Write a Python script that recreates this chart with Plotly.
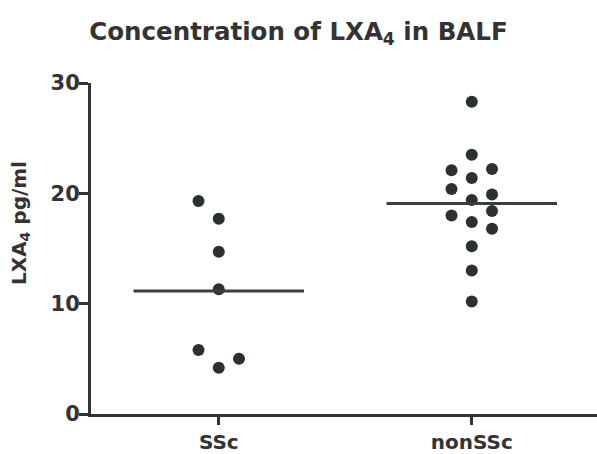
import plotly.graph_objects as go

categories = ["SSc", "nonSSc"]
ssc_values = [19.3, 17.7, 14.7, 11.3, 5.8, 4.2, 5.0]
ssc_columns = [-1, 0, 0, 0, -1, 0, 1]
nonssc_values = [28.3, 23.5, 22.1, 22.2, 21.4, 20.4, 19.9, 19.4, 18.4, 18.0, 17.4, 16.8, 15.2, 13.0, 10.2]
nonssc_columns = [0, 0, -1, 1, 0, -1, 1, 0, 1, -1, 0, 1, 0, 0, 0]
y_ticks = [0, 10, 20, 30]

dot_step = 0.08
half_line = 0.337
dark = "#2b3030"
txt = "#333333"
font_family = "DejaVu Sans, Liberation Sans, Arial, sans-serif"

groups = [(ssc_values, ssc_columns), (nonssc_values, nonssc_columns)]

fig = go.Figure()
for i, (vals, cols) in enumerate(groups):
    xs = [i + c * dot_step for c in cols]
    fig.add_trace(go.Scatter(x=xs, y=vals, mode="markers",
                             marker=dict(size=12, color=dark), showlegend=False,
                             hoverinfo="y"))
    mean = sum(vals) / len(vals)
    fig.add_trace(go.Scatter(x=[i - half_line, i + half_line], y=[mean, mean], mode="lines",
                             line=dict(color="#3a3e3e", width=3), showlegend=False,
                             hoverinfo="skip"))

fig.update_layout(
    width=597, height=454,
    margin=dict(l=91, r=0, t=83, b=33),
    paper_bgcolor="white", plot_bgcolor="white",
    font=dict(family=font_family, color=txt),
    title=dict(text="Concentration of LXA<sub>4</sub> in BALF",
               x=0.5, xref="container", xanchor="center",
               y=1 - 31 / 454, yref="container", yanchor="middle",
               font=dict(size=24.5, family=font_family, color=txt, weight="bold")),
    xaxis=dict(range=[-0.505, 1.495], tickmode="array", tickvals=[0, 1], ticktext=categories,
               showgrid=False, zeroline=False, showline=True, linecolor=txt, linewidth=3,
               ticks="outside", ticklen=8, tickwidth=3, tickcolor=txt,
               tickfont=dict(size=20, family=font_family, color=txt, weight="bold")),
    yaxis=dict(range=[0, 30], tickmode="array", tickvals=y_ticks,
               showgrid=False, zeroline=False, showline=True, linecolor=txt, linewidth=3,
               ticks="outside", ticklen=9, tickwidth=3, tickcolor=txt,
               ticklabelstandoff=-5,
               tickfont=dict(size=21, family=font_family, color=txt, weight="bold")),
    annotations=[dict(text="LXA<sub>4</sub> pg/ml", textangle=-90,
                      xref="paper", yref="paper", x=(20 - 91) / 506, y=(421 - 226) / 338,
                      xanchor="center", yanchor="middle", showarrow=False,
                      font=dict(size=20, family=font_family, color=txt, weight="bold"))],
)

fig.write_html("out.html")
